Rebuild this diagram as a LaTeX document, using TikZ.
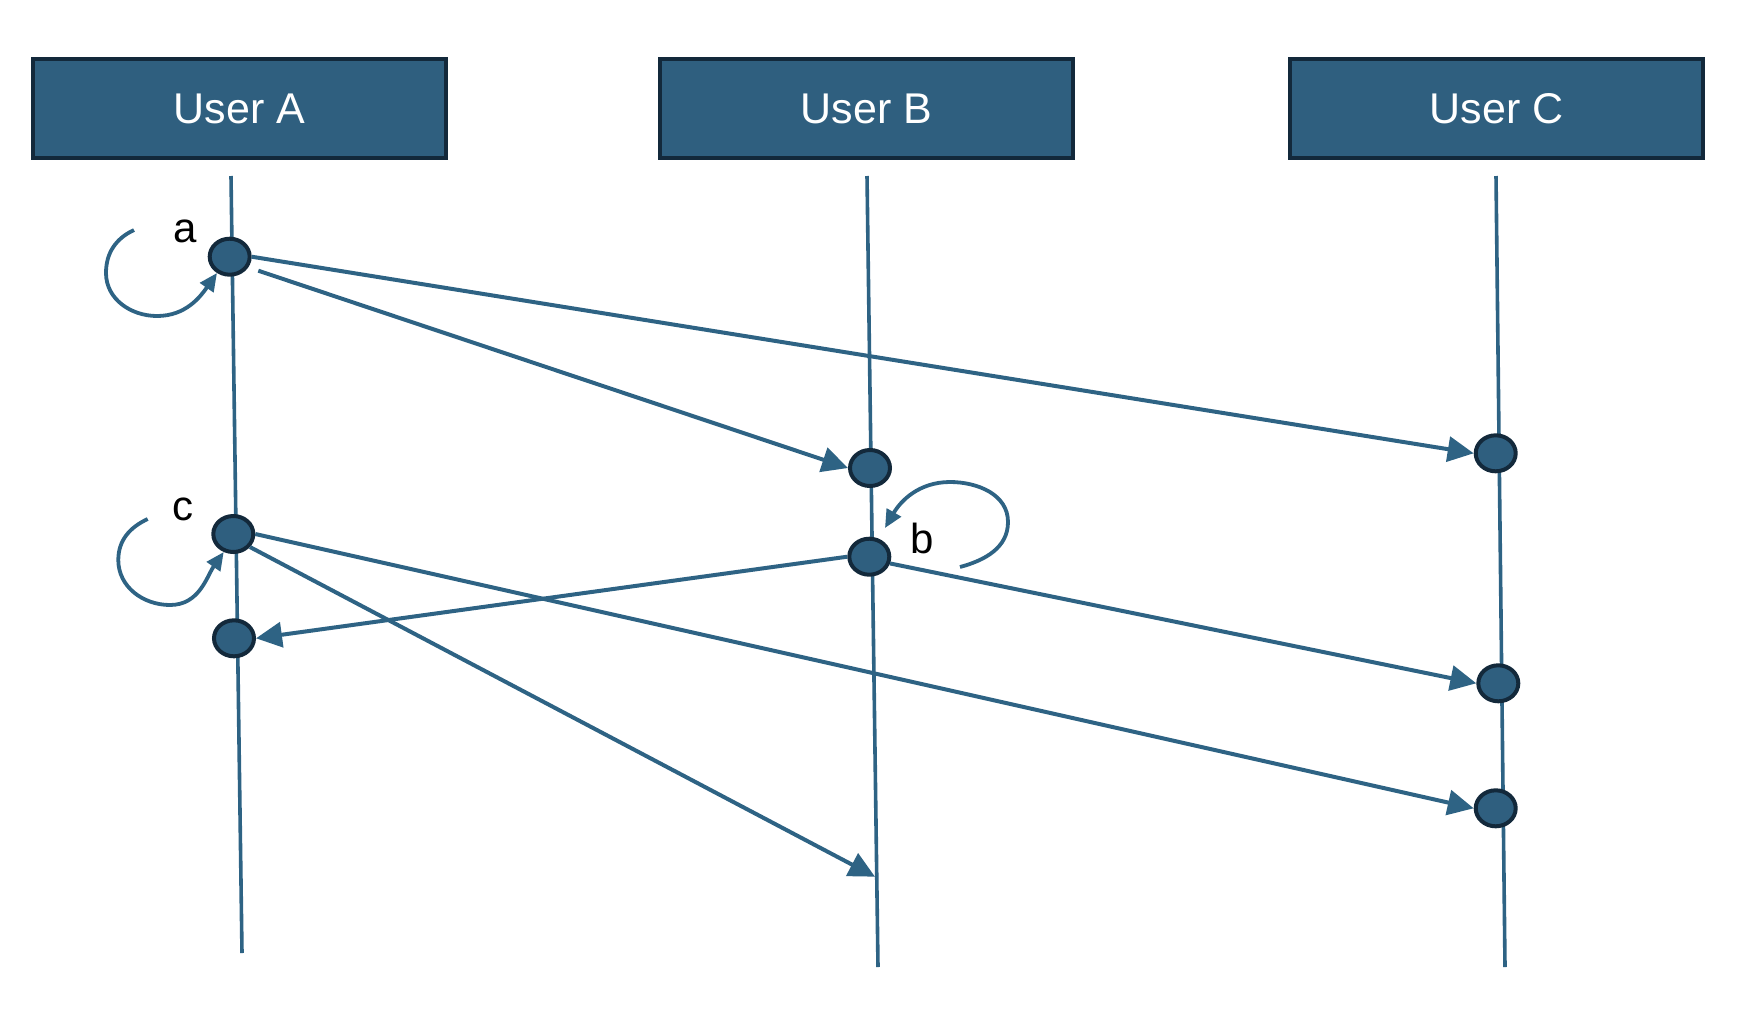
\documentclass[tikz,border=0pt]{standalone}
\usepackage{fontspec}
\setmainfont{Liberation Sans}
\usetikzlibrary{arrows.meta,shapes.geometric}
\definecolor{nodefill}{HTML}{2F5F7F}
\definecolor{linecol}{HTML}{2E6384}
\definecolor{edgecol}{HTML}{13293B}
\begin{document}
\begin{tikzpicture}[x=1pt,y=-1pt,
  actor/.style={draw=edgecol,line width=4pt,fill=nodefill,minimum width=413pt,
    minimum height=99pt,inner sep=0pt,text=white,font=\fontsize{43}{51}\selectfont},
  event/.style={ellipse,draw=edgecol,line width=4pt,fill=nodefill,
    minimum width=40pt,minimum height=36pt,inner sep=0pt},
  lifeline/.style={draw=linecol,line width=3.6pt},
  msg/.style={draw=linecol,line width=4pt,-{Triangle[length=26pt,width=25pt]}},
  selfloop/.style={draw=linecol,line width=3.8pt,-{Triangle[length=18pt,width=16pt]}},
  tag/.style={font=\fontsize{42}{50}\selectfont,inner sep=0pt}]
  \useasboundingbox (0,0) rectangle (1758,1010);

  % participants
  \node[actor] (userA) at (239.5,108.5) {User A};
  \node[actor] (userB) at (866.5,108.5) {User B};
  \node[actor] (userC) at (1496.5,108.5) {User C};

  % lifelines
  \coordinate (topA) at (231,176);   \coordinate (botA) at (242,953);
  \coordinate (topB) at (867,176);   \coordinate (botB) at (878,967);
  \coordinate (topC) at (1496,176);  \coordinate (botC) at (1505,967);
  \draw[lifeline] (topA) -- (botA);
  \draw[lifeline] (topB) -- (botB);
  \draw[lifeline] (topC) -- (botC);

  % events
  \node[event] (a)  at (229.7,256.7) {};
  \node[event] (c)  at (233.3,534) {};
  \node[event] (a2) at (234,638.3) {};
  \node[event] (b1) at (870,468) {};
  \node[event] (b)  at (869.3,556.7) {};
  \node[event] (c1) at (1495.7,453.3) {};
  \node[event] (c2) at (1498.3,683.3) {};
  \node[event] (c3) at (1495.7,808.3) {};

  % labels
  \node[tag] (la) at (185,231) {a};
  \node[tag] (lc) at (183,509) {c};
  \node[tag] (lb) at (922,538) {b};

  % messages
  \coordinate (aout) at (258.3,270.7);
  \coordinate (bhit) at (875,876.7);
  \draw[msg] (a.east) -- (c1.west);
  \draw[msg] (aout) -- (b1.west);
  \draw[msg] (b.west) -- (a2.east);
  \draw[msg] (b.-18) -- (c2.west);
  \draw[msg] (c.east) -- (c3.west);
  \draw[msg] (c.-38) -- (bhit);

  % local steps
  \coordinate (sa) at (134,230);
  \coordinate (sa1) at (106,273);
  \coordinate (sa2) at (157,316);
  \draw[selfloop] (sa) to[out=205,in=90] (sa1) to[out=270,in=180] (sa2) to[out=0,in=235] (a.-128);

  \coordinate (sc) at (147.7,519);
  \coordinate (sc1) at (118.3,560);
  \coordinate (sc2) at (170,605);
  \draw[selfloop] (sc) to[out=205,in=90] (sc1) to[out=270,in=180] (sc2) to[out=0,in=235] (c.-118);

  \coordinate (sb) at (960,567);
  \coordinate (sb1) at (1008,522);
  \coordinate (sb2) at (950,482);
  \coordinate (sbend) at (885,528);
  \draw[selfloop] (sb) to[out=15,in=270] (sb1) to[out=90,in=0] (sb2) to[out=180,in=60] (sbend);
\end{tikzpicture}
\end{document}
